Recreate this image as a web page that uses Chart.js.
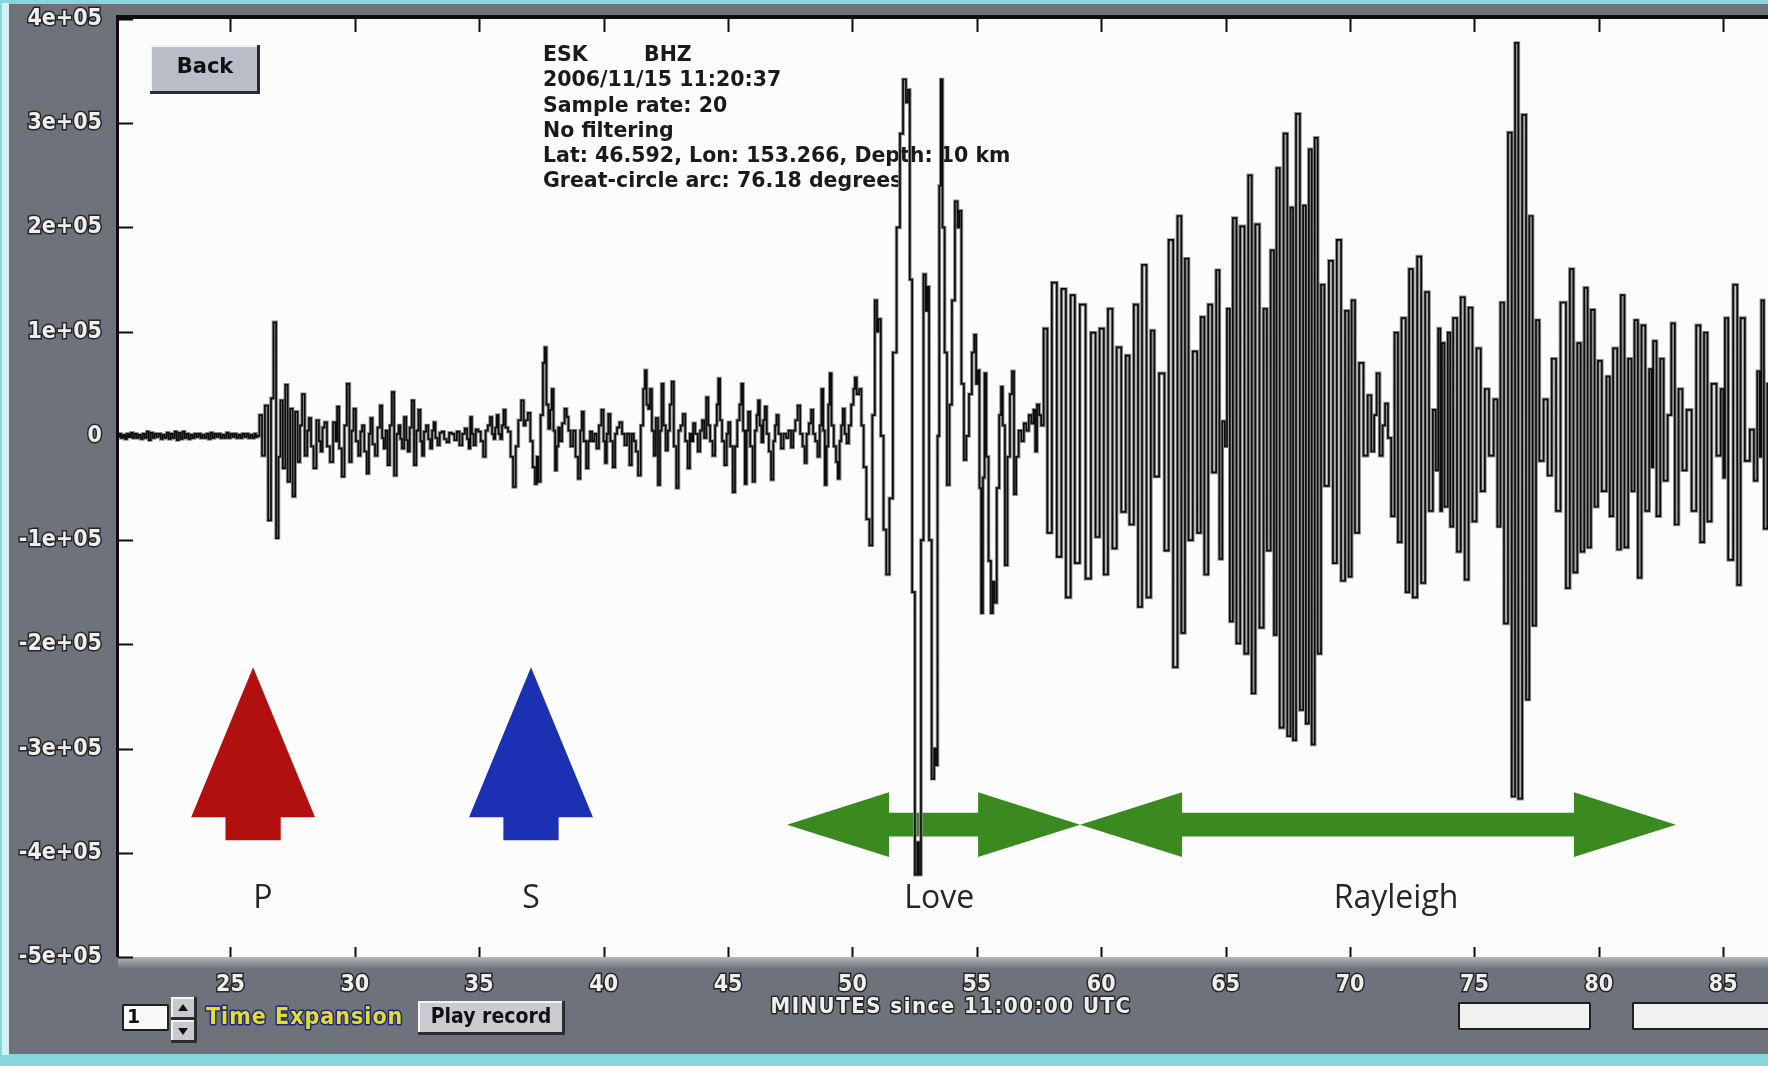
<!DOCTYPE html>
<html>
<head>
<meta charset="utf-8">
<title>ESK BHZ – 2006/11/15</title>
<script src="https://cdn.jsdelivr.net/npm/chart.js@4.4.1/dist/chart.umd.min.js"></script>
<style>
  html, body { margin: 0; padding: 0; background: #86d6de; overflow: hidden; }
  canvas { display: block; }
</style>
</head>
<body>
<canvas id="seis" width="1768" height="1066"></canvas>
<script>
// ---- axis definitions -------------------------------------------------------
const AMP_UNIT = 1e5;                       // trace amplitudes below are in units of 100 000 counts
const timeWindow = [20.48, 86.80];          // minutes since 11:00:00 UTC
const amplitudeWindow = [-5, 4];
const minuteTicks = [25, 30, 35, 40, 45, 50, 55, 60, 65, 70, 75, 80, 85];
const amplitudeTicks = [-5, -4, -3, -2, -1, 0, 1, 2, 3, 4];
const amplitudeTickLabels = ['-5e+05', '-4e+05', '-3e+05', '-2e+05', '-1e+05', '0', '1e+05', '2e+05', '3e+05', '4e+05'];

// ---- vertical-component trace, [minute, amplitude] -------------------------
const preEventNoise = [
  [20.48,0.00],[20.56,0.02],[20.64,-0.02],[20.72,0.01],[20.80,-0.03],[20.88,0.02],[20.96,-0.01],[21.04,0.03],
  [21.12,-0.02],[21.20,0.02],[21.28,-0.02],[21.36,0.01],[21.44,-0.03],[21.52,0.02],[21.60,-0.02],[21.68,0.04],
  [21.76,-0.04],[21.84,0.03],[21.92,-0.02],[22.00,0.02],[22.08,-0.01],[22.16,0.02],[22.24,-0.03],[22.32,0.01],
  [22.40,-0.02],[22.48,0.03],[22.56,-0.03],[22.64,0.02],[22.72,-0.02],[22.80,0.04],[22.88,-0.04],[22.96,0.03],
  [23.04,-0.03],[23.12,0.04],[23.20,-0.02],[23.28,0.02],[23.36,-0.03],[23.44,0.01],[23.52,-0.02],[23.60,0.02],
  [23.68,-0.01],[23.76,0.02],[23.84,-0.02],[23.92,0.01],[24.00,-0.02],[24.08,0.02],[24.16,-0.03],[24.24,0.03],
  [24.32,-0.02],[24.40,0.02],[24.48,-0.01],[24.56,0.02],[24.64,-0.02],[24.72,0.01],[24.80,-0.02],[24.88,0.03],
  [24.96,-0.02],[25.04,0.02],[25.12,-0.01],[25.20,0.02],[25.28,-0.02],[25.36,0.01],[25.44,-0.02],[25.52,0.02],
  [25.60,-0.01],[25.68,0.02],[25.76,-0.02],[25.84,0.01],[25.92,-0.02],[26.00,0.02],[26.06,-0.01]
];
const pWaveTrain = [
  [26.11,0.00],[26.22,0.20],[26.32,-0.19],[26.45,0.29],[26.58,-0.81],[26.68,0.36],[26.78,1.09],[26.89,-0.98],
  [26.97,-0.20],[27.05,0.34],[27.16,-0.31],[27.25,0.49],[27.35,-0.44],[27.45,0.26],[27.55,-0.58],[27.65,0.23],
  [27.75,-0.25],[27.84,0.10],[27.92,0.40],[28.05,-0.19],[28.12,0.05],[28.19,0.17],[28.29,-0.10],[28.39,-0.31],
  [28.52,0.15],[28.59,-0.05],[28.66,-0.15],[28.74,0.08],[28.82,0.13],[28.94,-0.10],[29.06,-0.25],[29.19,0.13],
  [29.26,-0.05],[29.32,0.28],[29.42,-0.12],[29.53,-0.39],[29.63,0.10],[29.73,0.50],[29.83,-0.25],[29.91,0.05],
  [29.99,0.26],[30.09,-0.05],[30.19,-0.19],[30.26,0.04],[30.33,0.10],[30.43,-0.15],[30.53,-0.36],[30.60,0.02],
  [30.66,0.17],[30.76,-0.08],[30.86,-0.19],[30.96,0.08],[31.06,0.29],[31.13,-0.02],[31.20,-0.12],[31.28,0.05],
  [31.36,-0.28],[31.45,0.10],[31.53,0.42],[31.63,-0.38],[31.72,0.02],[31.80,0.10],[31.86,-0.03],[31.93,-0.12],
  [32.03,0.18],[32.10,-0.04],[32.16,-0.15],[32.25,0.08],[32.33,0.34],[32.43,-0.28],[32.51,0.05],[32.60,0.25],
  [32.67,-0.05],[32.74,-0.19],[32.82,0.04],[32.91,0.10],[32.99,-0.03],[33.07,-0.12],[33.14,0.05],[33.20,0.13],
  [33.28,-0.02],[33.37,-0.09],[33.45,0.03],[33.54,0.04],[33.64,-0.03],[33.74,-0.06],[33.84,0.03],[33.94,0.02]
];
const sWaveTrain = [
  [34.06,-0.04],[34.14,0.04],[34.27,-0.09],[34.37,0.02],[34.47,0.07],[34.55,-0.03],[34.61,-0.12],[34.67,0.18],
  [34.74,0.02],[34.81,-0.09],[34.91,0.06],[35.01,0.04],[35.11,-0.05],[35.21,-0.20],[35.30,0.05],[35.39,0.10],
  [35.48,0.18],[35.55,0.02],[35.61,-0.03],[35.67,0.08],[35.74,0.20],[35.81,0.02],[35.88,-0.03],[35.95,0.10],
  [36.01,0.25],[36.10,0.08],[36.21,0.04],[36.31,-0.20],[36.41,-0.49],[36.52,-0.10],[36.62,0.15],[36.75,0.34],
  [36.82,0.10],[36.90,0.15],[37.01,0.22],[37.10,-0.05],[37.20,-0.30],[37.28,-0.46],[37.35,-0.20],[37.41,-0.44],
  [37.52,0.20],[37.60,0.70],[37.66,0.85],[37.74,0.30],[37.82,0.07],[37.88,0.25],[37.95,0.45],[38.02,0.05],
  [38.08,-0.33],[38.15,-0.10],[38.21,0.08],[38.28,-0.05],[38.38,0.12],[38.48,0.26],[38.55,0.18],[38.62,0.05],
  [38.72,-0.10],[38.82,0.05],[38.92,-0.20],[39.02,-0.41],[39.10,0.05],[39.15,0.23],[39.25,-0.05],[39.35,-0.31],
  [39.42,-0.05],[39.49,0.04],[39.58,-0.05],[39.67,0.02],[39.76,-0.12],[39.86,0.10],[39.96,0.25],[40.03,-0.05],
  [40.09,-0.26],[40.16,0.02],[40.22,0.21],[40.32,-0.05],[40.42,-0.30],[40.50,0.02],[40.58,0.08],[40.69,0.13],
  [40.79,0.02],[40.89,-0.09],[40.99,0.02],[41.09,-0.28],[41.17,0.02],[41.25,-0.05],[41.34,-0.15],[41.43,-0.38],
  [41.55,0.10],[41.63,0.45],[41.69,0.63],[41.76,0.30],[41.83,0.26],[41.90,0.45],[41.98,0.05],[42.06,-0.19],
  [42.14,0.17],[42.23,-0.47],[42.30,0.05],[42.36,0.50],[42.45,0.10],[42.54,-0.14],[42.62,0.05],[42.70,0.30],
  [42.77,0.52],[42.87,-0.10],[42.97,-0.50],[43.05,0.05],[43.14,0.10],[43.23,0.21],[43.33,-0.05],[43.43,-0.31],
  [43.50,0.02],[43.57,-0.05],[43.63,0.12],[43.73,0.02],[43.84,-0.15],[43.92,0.05],[44.00,0.15],[44.08,-0.02],
  [44.17,0.37],[44.24,0.10],[44.32,-0.05],[44.44,-0.19],[44.52,0.10],[44.58,0.30],[44.64,0.55],[44.72,0.15],
  [44.80,-0.05],[44.91,-0.28],[44.98,0.02],[45.04,0.13],[45.14,-0.10],[45.24,-0.54],[45.32,-0.10],[45.42,0.15],
  [45.50,0.30],[45.57,0.50],[45.64,0.05],[45.71,-0.46],[45.78,0.05],[45.84,0.23],[45.94,-0.10],[46.04,-0.44],
  [46.12,0.05],[46.18,0.20],[46.24,0.34],[46.31,0.10],[46.38,-0.06],[46.45,0.15],[46.51,0.28],[46.60,0.02],
  [46.68,-0.15],[46.78,-0.42],[46.86,-0.05],[46.92,0.10],[46.98,0.20],[47.08,0.02],[47.18,-0.12],[47.28,0.02],
  [47.38,-0.02],[47.48,0.05],[47.58,-0.11],[47.66,0.05],[47.75,0.15],[47.85,0.29],[47.95,0.02],[48.04,-0.10],
  [48.12,-0.26],[48.20,0.02],[48.30,0.12],[48.38,0.25],[48.46,0.02],[48.55,-0.05],[48.65,-0.20],[48.72,0.10],
  [48.79,0.45],[48.86,0.05],[48.92,-0.47],[49.00,-0.10],[49.06,0.30],[49.12,0.60],[49.20,0.10],[49.30,-0.10],
  [49.38,-0.25],[49.45,-0.41],[49.52,-0.05],[49.58,0.10],[49.65,0.26],[49.73,0.02],[49.81,-0.07],[49.90,0.10],
  [50.00,0.30],[50.08,0.45],[50.12,0.56],[50.22,0.40],[50.32,0.45],[50.40,0.10],[50.50,-0.30],[50.62,-0.80],
  [50.75,-1.05]
];
const loveWaveTrain = [
  [50.85,0.20],[50.95,1.30],[51.02,1.00],[51.08,1.12],[51.20,0.00],[51.30,-0.90],[51.42,-1.33],[51.55,-0.60],
  [51.70,0.80],[51.85,2.00],[51.97,2.90],[52.10,3.42],[52.20,3.20],[52.26,3.32],[52.35,1.50],[52.45,-1.50],
  [52.57,-4.21],[52.64,-3.90],[52.71,-4.21],[52.80,-1.00],[52.91,1.55],[52.98,1.20],[53.04,1.43],[53.12,-1.00],
  [53.25,-3.29],[53.32,-3.00],[53.38,-3.16],[53.46,0.00],[53.52,2.40],[53.58,3.42],[53.66,2.00],[53.75,0.80],
  [53.85,-0.47],[53.95,0.30],[54.05,1.30],[54.19,2.25],[54.26,2.00],[54.33,2.16],[54.43,0.50],[54.53,-0.23],
  [54.62,0.00],[54.75,0.40],[54.85,0.80],[54.94,0.97],[55.00,0.50],[55.07,0.63],[55.14,-0.50],[55.21,-1.70],
  [55.28,-0.40],[55.34,0.60],[55.42,-0.20],[55.52,-1.20],[55.61,-1.70],[55.68,-1.40],[55.75,-1.60],[55.85,-0.50],
  [55.95,0.20],[56.00,0.47],[56.08,0.10],[56.18,-1.24],[56.28,-0.20],[56.38,0.40],[56.45,0.62],[56.54,-0.56],
  [56.62,-0.20],[56.74,0.05],[56.84,-0.05],[56.94,0.12],[57.04,0.05],[57.14,0.20],[57.24,0.12],[57.32,0.25],
  [57.38,-0.15],[57.46,0.30],[57.55,0.20],[57.62,0.10]
];
const rayleighWaveTrain = [
  [57.75,1.03],[57.92,-0.93],[58.11,1.47],[58.32,-1.16],[58.48,1.41],[58.68,-1.55],[58.86,1.35],[59.02,-1.22],
  [59.26,1.26],[59.48,-1.37],[59.69,0.99],[59.85,-0.97],[60.02,1.03],[60.19,-1.33],[60.35,1.22],[60.55,-1.08],
  [60.69,0.85],[60.92,-0.73],[61.05,0.77],[61.22,-0.85],[61.40,1.26],[61.56,-1.64],[61.72,1.64],[61.92,-1.55],
  [62.07,1.01],[62.20,-0.39],[62.45,0.60],[62.63,-1.10],[62.79,1.88],[62.99,-2.22],[63.14,2.11],[63.30,-1.89],
  [63.43,1.70],[63.59,-1.00],[63.77,0.81],[63.94,-0.93],[64.06,1.14],[64.23,-1.33],[64.37,1.26],[64.54,-0.35],
  [64.70,1.59],[64.80,-1.18],[64.93,0.14],[65.01,-0.10],[65.10,1.22],[65.24,-1.78],[65.34,2.09],[65.53,-1.99],
  [65.64,2.01],[65.87,-2.09],[65.95,2.50],[66.15,-2.47],[66.24,2.03],[66.48,-1.84],[66.57,1.22],[66.75,-1.10],
  [66.87,1.78],[67.02,-1.91],[67.07,2.57],[67.28,-2.80],[67.38,2.90],[67.58,-2.88],[67.64,2.19],[67.78,-2.92],
  [67.88,3.09],[68.09,-2.63],[68.14,2.21],[68.31,-2.76],[68.38,2.75],[68.54,-2.96],[68.62,2.86],[68.78,-2.09],
  [68.89,1.45],[69.05,-0.48],[69.25,1.68],[69.38,-1.22],[69.56,1.88],[69.72,-1.39],[69.88,1.20],[70.01,-1.35],
  [70.12,1.30],[70.28,-0.93],[70.45,0.70],[70.63,-0.19],[70.79,0.39],[70.92,-0.15],[71.02,0.20],[71.12,0.60],
  [71.26,-0.19],[71.36,0.10],[71.46,0.31],[71.59,-0.02],[71.72,-0.77],[71.86,0.99],[71.99,-1.02],[72.15,1.13],
  [72.33,-1.50],[72.42,1.60],[72.63,-1.55],[72.77,1.72],[72.95,-1.41],[73.09,1.38],[73.26,-0.72],[73.40,0.25],
  [73.49,-0.33],[73.60,1.03],[73.66,-0.72],[73.73,0.89],[73.86,-0.68],[74.00,0.99],[74.06,-0.87],[74.23,1.13],
  [74.37,-1.11],[74.53,1.33],[74.69,-1.38],[74.84,1.23],[75.00,-0.82],[75.17,0.84],[75.34,-0.53],[75.50,0.45],
  [75.67,-0.19],[75.87,0.35],[75.98,-0.87],[76.11,1.28],[76.27,-1.80],[76.43,2.91],[76.57,-3.46],[76.70,3.77],
  [76.83,-3.48],[77.01,3.08],[77.14,-2.53],[77.27,2.11],[77.41,-1.82],[77.54,1.11],[77.68,-0.24],[77.88,0.35],
  [78.01,-0.38],[78.21,0.74],[78.35,-0.72],[78.57,1.28],[78.79,-1.46],[78.88,1.60],[79.08,-1.31],[79.19,0.89],
  [79.35,-1.11],[79.48,1.42],[79.62,-1.07],[79.75,1.21],[79.91,-0.68],[80.02,0.72],[80.22,-0.53],[80.39,0.57],
  [80.49,-0.77],[80.66,0.84],[80.82,-1.09],[80.95,1.35],[81.11,-1.07],[81.25,0.74],[81.38,-0.53],[81.49,1.11],
  [81.65,-1.36],[81.78,1.06],[81.96,-0.72],[82.09,0.64],[82.15,-0.30],[82.22,0.91],[82.42,-0.77],[82.52,0.74],
  [82.69,-0.43],[82.84,0.20],[82.99,1.08],[83.12,-0.85],[83.29,0.45],[83.43,-0.33],[83.63,0.25],[83.83,-0.72],
  [84.00,1.06],[84.16,-1.02],[84.30,0.99],[84.43,-0.82],[84.63,0.50],[84.83,-0.19],[84.97,0.45],[85.04,-0.40],
  [85.10,1.13],[85.30,-1.19],[85.50,1.45],[85.63,-1.43],[85.77,1.13],[85.97,-0.24],[86.17,0.06],[86.30,-0.43],
  [86.44,0.62],[86.50,-0.20],[86.57,1.30],[86.70,-0.89],[86.85,0.50]
];

// ---- annotations ------------------------------------------------------------
const stationCode = 'ESK';
const channelCode = 'BHZ';
const stationInfo = [
  '2006/11/15 11:20:37',
  'Sample rate: 20',
  'No filtering',
  'Lat: 46.592, Lon: 153.266, Depth: 10 km',
  'Great-circle arc: 76.18 degrees'
];
const bodyWaveArrivals = [['P', 25.91], ['S', 37.08]];            // minute of each up-arrow
const surfaceWaveSpans = [[47.37, 59.15], [59.15, 83.10]];         // Love, Rayleigh
const phaseLabels = [['P', 26.30], ['S', 37.08], ['Love', 53.49], ['Rayleigh', 71.85]];
const axisTitle = 'MINUTES since 11:00:00 UTC';

// ---- look ---------------------------------------------------------------------
const LOOK = {
  frame: '#86d6de', frameInner: '#d3f0f2', panel: '#6d727b', plot: '#fcfcfc',
  trace: '#0c0c0c', traceHalo: '#8e8e8e', tickText: '#efefef', tickShadow: '#262626',
  arrow: { P: '#b20f0f', S: '#1c30b4' }, span: '#3a8a1f', label: '#262626'
};
const UP_ARROW = { tip: -2.22, headBase: -3.66, shaftEnd: -3.88, headHalf: 2.49, shaftHalf: 1.11 };
const SPAN_ARROW = { mid: -3.73, headHalf: 0.31, shaftHalf: 0.115, headLen: 4.1 };
const LABEL_LEVEL = -4.44;
const CONDENSED = '"DejaVu Sans Condensed", "DejaVu Sans", sans-serif';

const trace = [...preEventNoise, ...pWaveTrain, ...sWaveTrain, ...loveWaveTrain, ...rayleighWaveTrain]
  .map(([t, a]) => ({ x: t, y: a * AMP_UNIT }));

function bevelBox(ctx, x, y, w, h, fill) {
  ctx.fillStyle = fill; ctx.fillRect(x, y, w, h);
  ctx.fillStyle = '#f4f4f6'; ctx.fillRect(x, y, w, 2); ctx.fillRect(x, y, 2, h);
  ctx.fillStyle = '#2c2c30'; ctx.fillRect(x, y + h - 3, w, 3); ctx.fillRect(x + w - 3, y, 3, h);
}

function strokedText(ctx, text, x, y, fill, stroke, lw) {
  ctx.lineJoin = 'round';
  ctx.lineWidth = lw; ctx.strokeStyle = stroke; ctx.strokeText(text, x, y);
  ctx.fillStyle = fill; ctx.fillText(text, x, y);
}

const seismoDecor = {
  id: 'seismoDecor',
  beforeDraw(chart) {
    const { ctx, chartArea: a, width, height } = chart;
    ctx.save();
    ctx.fillStyle = LOOK.frame; ctx.fillRect(0, 0, width, height);
    ctx.fillStyle = LOOK.frameInner; ctx.fillRect(2, 3, 7, height - 14);
    ctx.fillStyle = LOOK.panel; ctx.fillRect(9, 4, width - 9, 1050);
    ctx.fillStyle = LOOK.plot; ctx.fillRect(a.left, a.top, a.right - a.left, a.bottom - a.top);
    const g = ctx.createLinearGradient(0, a.bottom, 0, a.bottom + 12);
    g.addColorStop(0, '#b4b7bd'); g.addColorStop(1, LOOK.panel);
    ctx.fillStyle = g; ctx.fillRect(a.left, a.bottom, width - a.left, 12);
    ctx.restore();
  },
  beforeDatasetsDraw(chart) {
    const { ctx, scales: { x, y } } = chart;
    const px = m => x.getPixelForValue(m);
    const py = v => y.getPixelForValue(v * AMP_UNIT);
    ctx.save();

    // station header block
    ctx.font = 'bold 20.5px "DejaVu Sans", sans-serif';
    ctx.fillStyle = '#1a1a1a'; ctx.textBaseline = 'middle'; ctx.textAlign = 'left';
    ctx.fillText(stationCode, 543, 56);
    ctx.fillText(channelCode, 644, 56);
    stationInfo.forEach((line, i) => ctx.fillText(line, 543, 81 + i * 25.2));

    // Back button
    bevelBox(ctx, 150, 45, 110, 49, '#b9bdc8');
    ctx.font = 'bold 21px "DejaVu Sans", sans-serif';
    ctx.fillStyle = '#111'; ctx.textAlign = 'center';
    ctx.fillText('Back', 205, 68);

    // body-wave arrival arrows
    bodyWaveArrivals.forEach(([name, m]) => {
      const cx = px(m);
      const hw = px(m + UP_ARROW.headHalf) - cx, sw = px(m + UP_ARROW.shaftHalf) - cx;
      const yt = py(UP_ARROW.tip), yb = py(UP_ARROW.headBase), ye = py(UP_ARROW.shaftEnd);
      ctx.beginPath();
      ctx.moveTo(cx, yt); ctx.lineTo(cx + hw, yb); ctx.lineTo(cx + sw, yb); ctx.lineTo(cx + sw, ye);
      ctx.lineTo(cx - sw, ye); ctx.lineTo(cx - sw, yb); ctx.lineTo(cx - hw, yb); ctx.closePath();
      ctx.fillStyle = LOOK.arrow[name]; ctx.fill();
    });

    // surface-wave extent arrows
    surfaceWaveSpans.forEach(([m0, m1]) => {
      const x0 = px(m0), x1 = px(m1), ym = py(SPAN_ARROW.mid);
      const hl = px(m0 + SPAN_ARROW.headLen) - x0;
      const hh = py(SPAN_ARROW.mid - SPAN_ARROW.headHalf) - ym;
      const sh = py(SPAN_ARROW.mid - SPAN_ARROW.shaftHalf) - ym;
      ctx.beginPath();
      ctx.moveTo(x0, ym);
      ctx.lineTo(x0 + hl, ym - hh); ctx.lineTo(x0 + hl, ym - sh);
      ctx.lineTo(x1 - hl, ym - sh); ctx.lineTo(x1 - hl, ym - hh);
      ctx.lineTo(x1, ym);
      ctx.lineTo(x1 - hl, ym + hh); ctx.lineTo(x1 - hl, ym + sh);
      ctx.lineTo(x0 + hl, ym + sh); ctx.lineTo(x0 + hl, ym + hh);
      ctx.closePath();
      ctx.fillStyle = LOOK.span; ctx.fill();
    });

    // phase names
    ctx.font = '400 32px "Open Sans", sans-serif';
    ctx.fillStyle = LOOK.label; ctx.textAlign = 'center'; ctx.textBaseline = 'middle';
    phaseLabels.forEach(([name, m]) => ctx.fillText(name, px(m), py(LABEL_LEVEL)));
    ctx.restore();
  },
  afterDatasetsDraw(chart) {
    const { ctx, chartArea: a, scales: { x, y } } = chart;
    ctx.save();
    ctx.strokeStyle = '#0d0d0d';
    // inward tick marks
    ctx.lineWidth = 2;
    minuteTicks.forEach(m => {
      const xp = Math.round(x.getPixelForValue(m)) + 0.5;
      ctx.beginPath(); ctx.moveTo(xp, a.top); ctx.lineTo(xp, a.top + 13); ctx.stroke();
      ctx.beginPath(); ctx.moveTo(xp, a.bottom - 10); ctx.lineTo(xp, a.bottom); ctx.stroke();
    });
    amplitudeTicks.forEach(v => {
      const yp = Math.round(y.getPixelForValue(v * AMP_UNIT)) + 0.5;
      ctx.beginPath(); ctx.moveTo(a.left, yp); ctx.lineTo(a.left + 15, yp); ctx.stroke();
    });
    // frame lines
    ctx.fillStyle = '#0d0d0d';
    ctx.fillRect(a.left - 2, a.top - 4, a.right - a.left + 2, 4);
    ctx.fillRect(a.left - 2, a.top - 4, 3, a.bottom - a.top + 4);
    ctx.restore();
  },
  afterDraw(chart) {
    const { ctx } = chart;
    ctx.save();
    ctx.textBaseline = 'middle';

    // axis title
    ctx.font = 'bold 22px ' + CONDENSED;
    ctx.textAlign = 'center';
    ctx.letterSpacing = '1.5px';
    strokedText(ctx, axisTitle, 951, 1007, LOOK.tickText, LOOK.tickShadow, 3);

    // time-expansion spin box
    ctx.letterSpacing = '0px';
    ctx.fillStyle = '#fafafa'; ctx.fillRect(122, 1004, 47, 27);
    ctx.strokeStyle = '#1e1e1e'; ctx.lineWidth = 2; ctx.strokeRect(123, 1005, 45, 25);
    ctx.font = 'bold 19px "DejaVu Sans", sans-serif'; ctx.textAlign = 'left'; ctx.fillStyle = '#111';
    ctx.fillText('1', 127, 1018);
    [[997, -1], [1020, 1]].forEach(([top, dir]) => {
      bevelBox(ctx, 171, top, 26, 23, '#c8c9ce');
      const cx = 183, cy = top + 11;
      ctx.beginPath();
      ctx.moveTo(cx - 5, cy - 3 * dir); ctx.lineTo(cx + 5, cy - 3 * dir); ctx.lineTo(cx, cy + 4 * dir); ctx.closePath();
      ctx.fillStyle = '#111'; ctx.fill();
    });
    ctx.font = 'bold 23px ' + CONDENSED; ctx.textAlign = 'left';
    ctx.letterSpacing = '1px';
    strokedText(ctx, 'Time Expansion', 206, 1018, '#e4dd2e', '#1d2a78', 3);
    ctx.letterSpacing = '0px';

    // play button
    bevelBox(ctx, 418, 1001, 147, 34, '#c9cbd0');
    ctx.font = 'bold 21px ' + CONDENSED; ctx.textAlign = 'center'; ctx.fillStyle = '#111';
    ctx.fillText('Play record', 491, 1018);

    // readout fields
    [[1458, 133], [1632, 150]].forEach(([left, w]) => {
      ctx.fillStyle = '#f1f1f1'; ctx.fillRect(left, 1002, w, 28);
      ctx.strokeStyle = '#1e1e1e'; ctx.lineWidth = 2; ctx.strokeRect(left + 1, 1003, w - 2, 26);
    });
    ctx.restore();
  }
};

const traceStyle = { parsing: false, stepped: 'middle', pointRadius: 0, fill: false };

new Chart(document.getElementById('seis'), {
  type: 'line',
  data: {
    datasets: [
      // black pen stroke on top of a grey smear, as on the station display
      { ...traceStyle, data: trace, borderColor: LOOK.trace, borderWidth: 1.7, order: 0 },
      { ...traceStyle, data: trace, borderColor: LOOK.traceHalo, borderWidth: 3.6, order: 1 }
    ]
  },
  options: {
    responsive: false,
    animation: false,
    events: [],
    layout: { padding: { top: 19, left: 0, right: 0, bottom: 0 } },
    plugins: { legend: { display: false }, tooltip: { enabled: false } },
    scales: {
      x: {
        type: 'linear',
        min: timeWindow[0], max: timeWindow[1],
        afterBuildTicks: s => { s.ticks = minuteTicks.map(v => ({ value: v })); },
        afterFit: s => { s.height = 109; s.paddingLeft = 0; s.paddingRight = 0; },
        grid: { display: false, drawTicks: false },
        border: { display: false },
        ticks: {
          autoSkip: false, maxRotation: 0, padding: 14,
          color: LOOK.tickText, textStrokeColor: LOOK.tickShadow, textStrokeWidth: 3,
          font: { family: CONDENSED, size: 23, weight: 'bold' }
        }
      },
      y: {
        type: 'linear',
        min: amplitudeWindow[0] * AMP_UNIT, max: amplitudeWindow[1] * AMP_UNIT,
        afterBuildTicks: s => { s.ticks = amplitudeTicks.map(v => ({ value: v * AMP_UNIT })); },
        afterFit: s => { s.width = 118; s.paddingTop = 0; s.paddingBottom = 0; },
        grid: { display: false, drawTicks: false },
        border: { display: false },
        ticks: {
          padding: 16,
          callback: (value, index) => amplitudeTickLabels[index],
          color: LOOK.tickText, textStrokeColor: LOOK.tickShadow, textStrokeWidth: 3,
          font: { family: CONDENSED, size: 23, weight: 'bold' }
        }
      }
    }
  },
  plugins: [seismoDecor]
});
</script>
</body>
</html>
